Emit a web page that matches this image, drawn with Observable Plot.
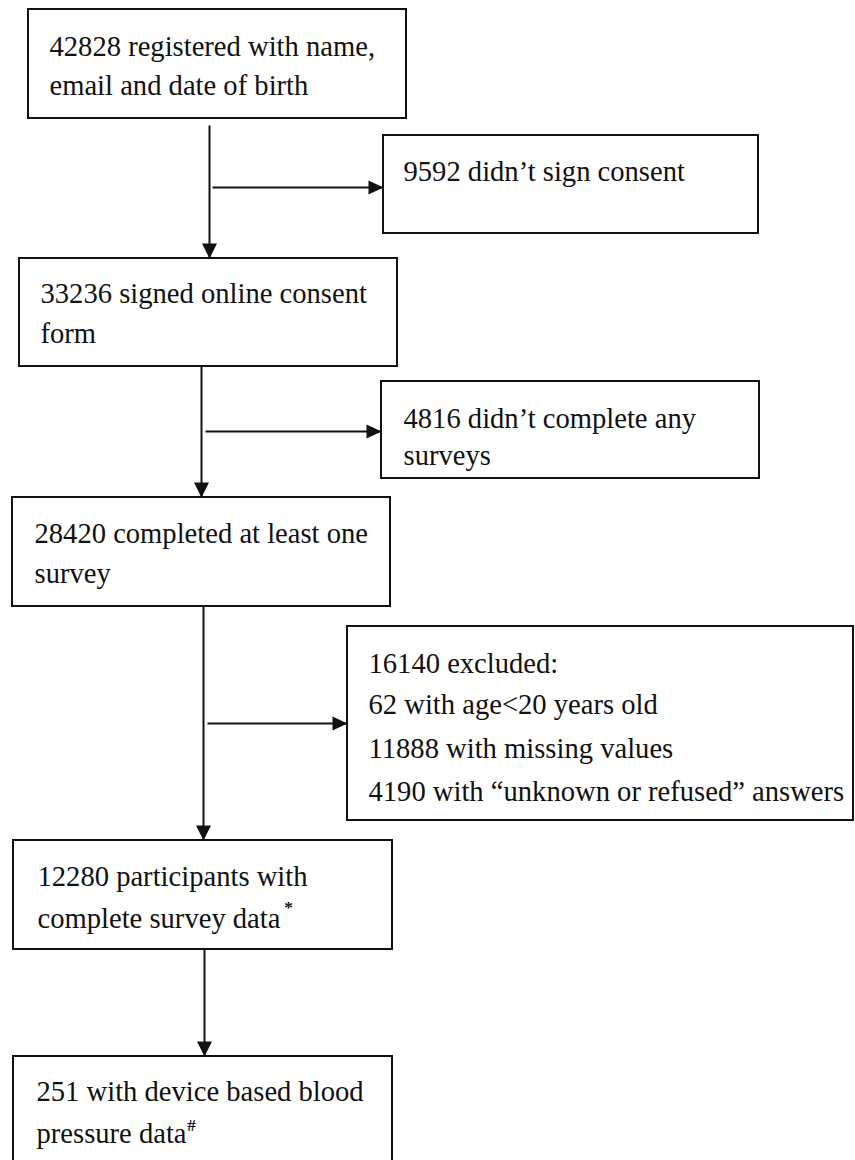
<!DOCTYPE html>
<html>
<head>
<meta charset="utf-8">
<script src="https://cdn.jsdelivr.net/npm/d3@7"></script>
<script src="https://cdn.jsdelivr.net/npm/@observablehq/plot@0.6"></script>
<style>
  html, body { margin: 0; padding: 0; background: #fff; }
</style>
</head>
<body>
<div id="chart"></div>
<script>
// ---- Content (flowchart steps) ----
const boxIds = ["registered", "noConsent", "consented", "noSurvey", "oneSurvey", "excluded", "complete", "device"];
const boxCounts = [42828, 9592, 33236, 4816, 28420, 16140, 12280, 251];
const boxTexts = [
  ["42828 registered with name,", "email and date of birth"],
  ["9592 didn’t sign consent"],
  ["33236 signed online consent", "form"],
  ["4816 didn’t complete any", "surveys"],
  ["28420 completed at least one", "survey"],
  ["16140 excluded:", "62 with age<20 years old", "11888 with missing values", "4190 with “unknown or refused” answers"],
  ["12280 participants with", "complete survey data"],
  ["251 with device based blood", "pressure data"]
];
const superscripts = ["*", "#"];
const superscriptBox = ["complete", "device"];

// ---- Layout (pixel space of the diagram) ----
const boxLeft   = [28, 383, 19, 381, 12, 347, 13, 13];
const boxRight  = [406, 758, 397, 759, 390, 853, 392, 392];
const boxTop    = [9, 135, 258, 381, 497, 626, 840, 1056];
const boxBottom = [118, 233, 366, 478, 606, 820, 949, 1175];
const textLeft  = [49, 403, 40, 403, 34, 368, 37, 36];
const textBaselines = [
  [55, 94], [180], [302, 342], [427, 464], [542, 582],
  [672, 713, 757, 800], [885, 927], [1100, 1142]
];
const superX = [288, 191];
const superY = [907, 1125];

// arrows: [x1, y1, x2, y2]
const downArrows = [
  [209, 125, 209, 258],
  [201, 366, 201, 497],
  [203, 606, 203, 840],
  [204, 949, 204, 1056]
];
const rightArrows = [
  [212, 187, 383, 187],
  [205, 431, 381, 431],
  [207, 723, 347, 723]
];

// ---- Build tables ----
const boxes = boxIds.map((id, i) => ({
  id, count: boxCounts[i],
  x1: boxLeft[i], x2: boxRight[i], y1: boxTop[i], y2: boxBottom[i]
}));
const lines = boxIds.flatMap((id, i) =>
  boxTexts[i].map((t, j) => ({id, text: t, x: textLeft[i], y: textBaselines[i][j]}))
);
const sups = superscripts.map((s, i) => ({id: superscriptBox[i], text: s, x: superX[i], y: superY[i]}));
const toLink = a => ({x1: a[0], y1: a[1], x2: a[2], y2: a[3]});
const downs = downArrows.map(toLink);
const rights = rightArrows.map(toLink);

const headDown = {draw(ctx) { ctx.moveTo(0, 0); ctx.lineTo(-7.5, -15); ctx.lineTo(7.5, -15); ctx.closePath(); }};
const headRight = {draw(ctx) { ctx.moveTo(0, 0); ctx.lineTo(-15, -7); ctx.lineTo(-15, 7); ctx.closePath(); }};

const font = "'Liberation Serif', 'Times New Roman', 'DejaVu Serif', serif";

const chart = Plot.plot({
  width: 855,
  height: 1160,
  margin: 0,
  x: {type: "linear", domain: [0, 855], range: [0, 855], axis: null},
  y: {type: "linear", domain: [0, 1160], range: [0, 1160], axis: null},
  style: {background: "#fff"},
  marks: [
    Plot.rect(boxes, {x1: "x1", x2: "x2", y1: "y1", y2: "y2", fill: "white", stroke: "#111", strokeWidth: 2}),
    Plot.link(downs, {x1: "x1", y1: "y1", x2: "x2", y2: "y2", stroke: "#111", strokeWidth: 2}),
    Plot.link(rights, {x1: "x1", y1: "y1", x2: "x2", y2: "y2", stroke: "#111", strokeWidth: 1.8}),
    Plot.dot(downs, {x: "x2", y: "y2", symbol: headDown, r: 6, fill: "#111", stroke: "none"}),
    Plot.dot(rights, {x: "x2", y: "y2", symbol: headRight, r: 6, fill: "#111", stroke: "none"}),
    Plot.text(lines, {x: "x", y: "y", text: "text", textAnchor: "start", lineAnchor: "bottom",
      fontSize: 28.6, fontFamily: font, fill: "#111"}),
    Plot.text(sups, {x: "x", y: "y", text: "text", textAnchor: "middle", lineAnchor: "middle",
      fontSize: 17, fontWeight: "bold", fontFamily: font, fill: "#111"})
  ]
});
document.getElementById("chart").appendChild(chart);
</script>
</body>
</html>
